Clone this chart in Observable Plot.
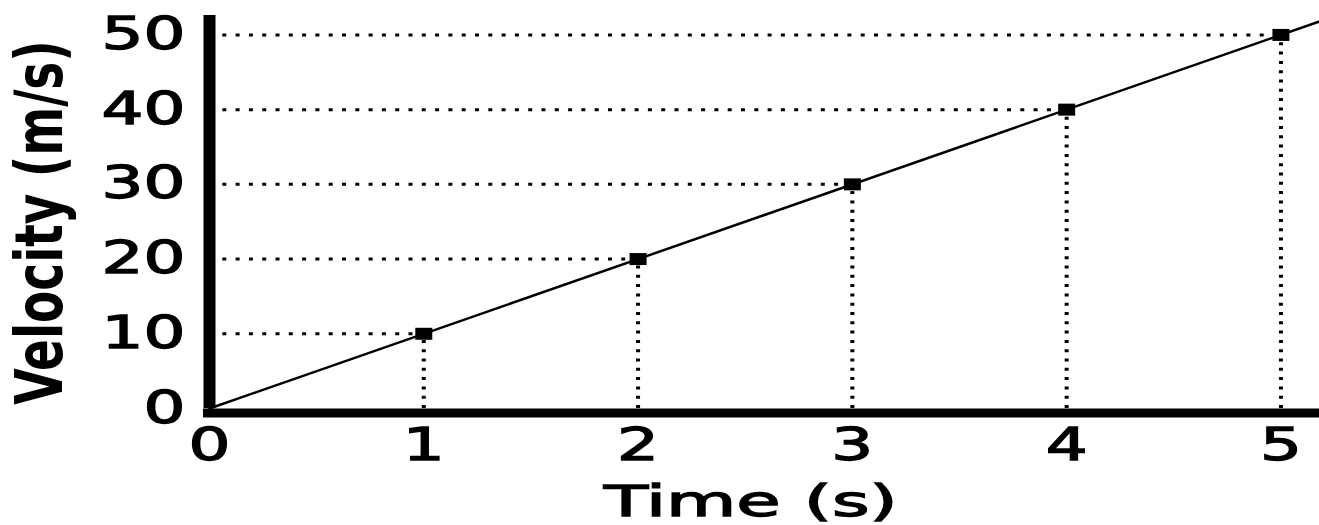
<!DOCTYPE html>
<html>
<head>
<meta charset="utf-8">
<script src="https://cdn.jsdelivr.net/npm/d3@7"></script>
<script src="https://cdn.jsdelivr.net/npm/@observablehq/plot@0.6"></script>
<style>
  html, body { margin: 0; padding: 0; background: #fff; }
  #chart svg { display: block; }
  #chart svg text { stroke: #000; stroke-width: 1.3px; }
  #chart svg text.y-title { stroke: none; font-weight: bold; }
</style>
</head>
<body>
<div id="chart"></div>
<script>
// Measured samples: time (s) and velocity (m/s)
const times = [1, 2, 3, 4, 5];
const velocities = [10, 20, 30, 40, 50];

// Straight-line fit drawn from the origin to the right edge of the plot
const fitTime = [0, 5.18];
const fitVelocity = [0, 51.8];

// Axis ticks and titles
const xTicks = [0, 1, 2, 3, 4, 5];
const yTicks = [0, 10, 20, 30, 40, 50];
const xTitle = "Time (s)";
const yTitle = "Velocity (m/s)";

const points = times.map((t, i) => ({t, v: velocities[i]}));
const fit = fitTime.map((t, i) => ({t, v: fitVelocity[i]}));

// Flat rectangular marker used for the samples
const block = {draw(ctx) { ctx.rect(-8.5, -6, 17, 12); }};

const font = "'DejaVu Sans', 'Liberation Sans', sans-serif";

const chart = Plot.plot({
  width: 1319,
  height: 525,
  marginLeft: 209,
  marginRight: 0,
  marginTop: 15,
  marginBottom: 117,
  style: {background: "#fff", color: "#000", fontFamily: font, fontSize: "44px", fontWeight: "normal"},
  x: {domain: [0, 5.18], ticks: xTicks, tickFormat: d3.format("d"), tickSize: 0, tickPadding: 20, label: null},
  y: {domain: [0, 52.6], ticks: yTicks, tickFormat: d3.format("d"), tickSize: 0, tickPadding: 24, label: null},
  marks: [
    // dotted guides from each sample to the axes
    Plot.ruleY(points, {y: "v", x1: 0, x2: "t", stroke: "#000", strokeWidth: 3, strokeDasharray: "4,9.3"}),
    Plot.ruleX(points, {x: "t", y1: 0, y2: "v", stroke: "#000", strokeWidth: 4, strokeDasharray: "3,6.3"}),
    // fitted line
    Plot.line(fit, {x: "t", y: "v", stroke: "#000", strokeWidth: 2.5}),
    // heavy axis lines
    Plot.ruleX([0], {stroke: "#000", strokeWidth: 12}),
    Plot.ruleY([0], {stroke: "#000", strokeWidth: 9, dy: 4.5, insetLeft: -6}),
    // sample markers
    Plot.dot(points, {x: "t", y: "v", symbol: block, fill: "#000", stroke: "none"}),
    // axis titles
    Plot.text([xTitle], {text: d => d, frameAnchor: "bottom", textAnchor: "middle", lineAnchor: "middle",
      dx: -14, dy: 94, fontSize: 43, fill: "#000"}),
    Plot.text([yTitle], {text: d => d, frameAnchor: "left", textAnchor: "middle", lineAnchor: "middle",
      rotate: -90, dx: -169, dy: 10.5, fontSize: 47, fill: "#000"})
  ]
});

document.getElementById("chart").appendChild(chart);

// Widen the lettering horizontally (on screen) to give the blocky, stretched type
chart.querySelectorAll("text").forEach(t => {
  const m = t.getCTM();
  const rotated = m && Math.abs(m.b) > 0.5;
  if (rotated) t.classList.add("y-title");
  const b = t.getBBox();
  const tr = t.getAttribute("transform") || "";
  if (rotated) {
    // rotated text: screen x is the local y direction
    const cy = b.y + b.height / 2;
    t.setAttribute("transform", `${tr} translate(0,${cy}) scale(1,1.4) translate(0,${-cy})`);
  } else {
    const sx = t.textContent === xTitle ? 1.68 : 1.5;
    const anchor = getComputedStyle(t).textAnchor;
    const ax = anchor === "end" ? b.x + b.width : anchor === "middle" ? b.x + b.width / 2 : b.x;
    t.setAttribute("transform", `${tr} translate(${ax},0) scale(${sx},1) translate(${-ax},0)`);
  }
});
</script>
</body>
</html>
